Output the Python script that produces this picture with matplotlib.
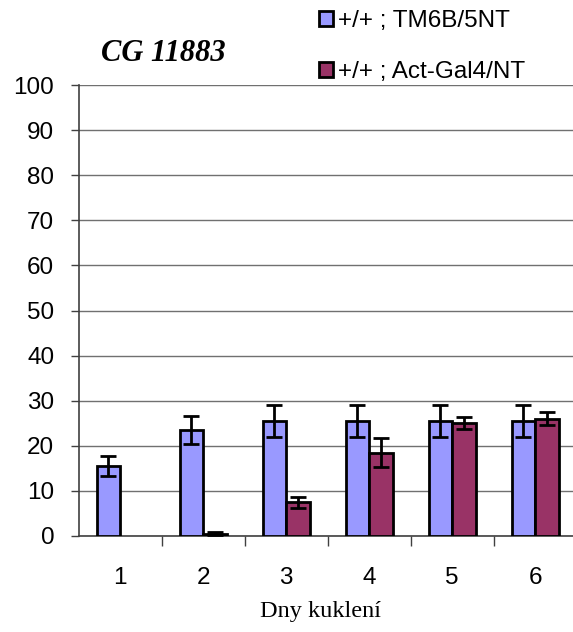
import numpy as np
import matplotlib.pyplot as plt

days = ["1", "2", "3", "4", "5", "6"]
tm6b = [15.5, 23.5, 25.5, 25.5, 25.5, 25.5]
tm6b_err = [2.3, 3.0, 3.5, 3.5, 3.5, 3.5]
actgal = [np.nan, 0.5, 7.5, 18.5, 25.0, 26.0]
actgal_err = [np.nan, 0.3, 1.2, 3.3, 1.3, 1.4]
yticks = list(range(0, 101, 10))

blue = "#9999FF"
purple = "#993366"

fig = plt.figure(figsize=(5.73, 6.32), dpi=100)
ax = fig.add_axes([0.1373, 0.1519, 0.8627, 0.7136])

x = np.arange(1, len(days) + 1)
w = 0.285
ekw = dict(elinewidth=2.0, capthick=2.0, ecolor="black")
b1 = ax.bar(x - w / 2, tm6b, w, yerr=tm6b_err, color=blue, edgecolor="black",
            linewidth=2.0, capsize=5.5, error_kw=ekw, zorder=3,
            label="+/+ ; TM6B/5NT")
b2 = ax.bar(x + w / 2, actgal, w, yerr=actgal_err, color=purple, edgecolor="black",
            linewidth=2.0, capsize=5.5, error_kw=ekw, zorder=3,
            label="+/+ ; Act-Gal4/NT")

ax.set_ylim(0, 100)
ax.set_xlim(0.5, 6.455)
ax.set_yticks(yticks)
ax.set_yticklabels([str(t) for t in yticks], fontsize=17.5, family="Liberation Sans")
ax.yaxis.grid(True, color="#707070", linewidth=1, zorder=0)
ax.tick_params(axis="y", length=5.5, width=1, color="#404040", pad=12)

# category labels centered, ticks between categories
ax.set_xticks(x)
ax.set_xticklabels(days, fontsize=17.5, family="Liberation Sans")
ax.tick_params(axis="x", length=0, pad=22)
ax.set_xticks(np.arange(1.5, 6.5, 1), minor=True)
ax.tick_params(axis="x", which="minor", length=7, width=1, color="#404040")

for s in ["top", "right"]:
    ax.spines[s].set_visible(False)
ax.spines["left"].set_color("#404040")
ax.spines["bottom"].set_color("#404040")
ax.spines["left"].set_linewidth(1.2)
ax.spines["bottom"].set_linewidth(1.2)

fig.text(0.56, 0.032, "Dny kuklení", fontsize=17.5, family="Liberation Serif",
         ha="center", va="center")

fig.text(0.2857, 0.916, "CG 11883", fontsize=22, family="Liberation Serif",
         fontweight="bold", fontstyle="italic", ha="center", va="center")

fig.legend(handles=[b1, b2], loc="upper left", bbox_to_anchor=(0.557, 0.984),
           frameon=False, prop={"family": "Liberation Sans", "size": 17.5},
           borderpad=0, borderaxespad=0,
           handlelength=0.58, handleheight=0.58, handletextpad=0.2, labelspacing=1.2)

fig.savefig("out.png", dpi=100)
